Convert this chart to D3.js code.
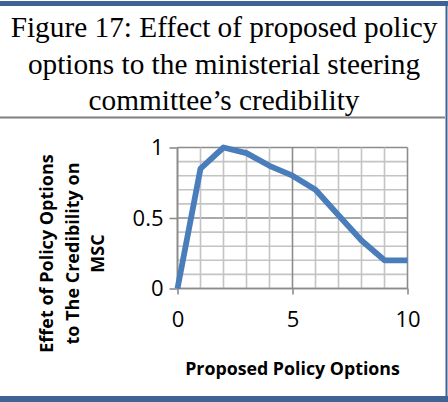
<!DOCTYPE html>
<html>
<head>
<meta charset="utf-8">
<script src="https://cdn.jsdelivr.net/npm/d3@7"></script>
<style>
  html, body { margin: 0; padding: 0; background: #fff; }
  svg { display: block; }
</style>
</head>
<body>
<svg id="chart" width="448" height="402"></svg>
<script>
// Proposed policy options (x) and their effect on the MSC's credibility (y)
const policyOptions = [0, 1, 2, 3, 4, 5, 6, 7, 8, 9, 10];
const credibilityEffect = [0, 0.85, 1.0, 0.96, 0.87, 0.80, 0.70, 0.52, 0.34, 0.20, 0.20];

const xTickValues = [0, 5, 10];
const yTickValues = [0, 0.5, 1];
const xMinorGrid = d3.range(0, 11, 1);
const yMinorGrid = d3.range(0, 11, 1).map(k => k / 10);

const titleLines = [
  "Figure 17: Effect of proposed policy",
  "options to the ministerial steering",
  "committee\u2019s credibility"
];
const yTitleLines = ["Effet of Policy Options", "to The Credibility on", "MSC"];
const xTitle = "Proposed Policy Options";

const svg = d3.select("#chart");
const W = 448, H = 402;
const frameBlue = "#3e6394";

// Frame: blue bars top and bottom, blue right edge, grey divider under the title
svg.append("rect").attr("x", 0).attr("y", 0).attr("width", W).attr("height", H).attr("fill", "#fff");
svg.append("rect").attr("x", 0).attr("y", 1).attr("width", W).attr("height", 5).attr("fill", frameBlue);
svg.append("rect").attr("x", 0).attr("y", 396).attr("width", W).attr("height", 6).attr("fill", frameBlue);
svg.append("rect").attr("x", 445.5).attr("y", 1).attr("width", 2).attr("height", 400).attr("fill", frameBlue);
svg.append("line").attr("x1", 0).attr("x2", 445).attr("y1", 117.5).attr("y2", 117.5)
  .attr("stroke", "#808080").attr("stroke-width", 2);

// Title block
const titleG = svg.append("g");
titleLines.forEach((t, i) => {
  titleG.append("text")
    .attr("x", 224).attr("y", 37 + i * 36.5)
    .attr("text-anchor", "middle")
    .attr("font-family", "'Liberation Serif', 'Times New Roman', serif")
    .attr("font-size", 29.3)
    .attr("fill", "#000")
    .text(t);
});

// Plot area
const pLeft = 177.5, pRight = 407.5, pTop = 147.5, pBottom = 288.5;
const x = d3.scaleLinear().domain([0, 10]).range([pLeft, pRight]);
const y = d3.scaleLinear().domain([0, 1]).range([pBottom, pTop]);

const isMajorY = d => Math.abs(d * 2 - Math.round(d * 2)) < 1e-6;

const grid = svg.append("g");
// horizontal grid every 0.1, darker at 0.5 steps
grid.selectAll("line.h").data(yMinorGrid).join("line")
  .attr("x1", pLeft).attr("x2", pRight)
  .attr("y1", d => y(d)).attr("y2", d => y(d))
  .attr("stroke", d => isMajorY(d) ? "#8c8c8c" : "#c4c4c4")
  .attr("stroke-width", 1.6);
// vertical grid every option, darker at 5 steps
grid.selectAll("line.v").data(xMinorGrid).join("line")
  .attr("x1", d => x(d)).attr("x2", d => x(d))
  .attr("y1", pTop).attr("y2", pBottom)
  .attr("stroke", d => d % 5 === 0 ? "#8c8c8c" : "#c4c4c4")
  .attr("stroke-width", 1.6);

// Axes
const yAxis = d3.axisLeft(y).tickValues(yTickValues).tickSize(8).tickPadding(6)
  .tickFormat(d => d === 0.5 ? "0.5" : String(d));
const xAxis = d3.axisBottom(x).tickValues(xTickValues).tickSize(6).tickPadding(17);

const yG = svg.append("g").attr("transform", `translate(${pLeft},0)`).call(yAxis);
const xG = svg.append("g").attr("transform", `translate(0,${pBottom})`).call(xAxis);
[yG, xG].forEach(g => {
  g.select(".domain").attr("stroke", "#8c8c8c").attr("stroke-width", 1.6);
  g.selectAll(".tick line").attr("stroke", "#8c8c8c").attr("stroke-width", 1.6);
  g.selectAll(".tick text")
    .attr("font-family", "'Open Sans', sans-serif")
    .attr("font-size", 22)
    .attr("fill", "#000");
});
yG.select(".domain").attr("d", `M0,${pBottom}V${pTop}`);
xG.select(".domain").attr("d", `M${pLeft},0H${pRight}`);
yG.selectAll(".tick text").attr("dy", "0.34em");

// Series line
const line = d3.line().x((d, i) => x(policyOptions[i])).y(d => y(d));
svg.append("path")
  .datum(credibilityEffect)
  .attr("d", line)
  .attr("fill", "none")
  .attr("stroke", "#4a7ebb")
  .attr("stroke-width", 5.8)
  .attr("stroke-linejoin", "round")
  .attr("stroke-linecap", "butt");

// Axis titles
svg.append("text")
  .attr("x", (pLeft + pRight) / 2).attr("y", 375)
  .attr("text-anchor", "middle")
  .attr("font-family", "'Open Sans', sans-serif")
  .attr("font-weight", "bold")
  .attr("font-size", 17.8)
  .attr("fill", "#000")
  .text(xTitle);

const yTitleG = svg.append("g").attr("transform", "translate(0,253.5) rotate(-90)");
yTitleLines.forEach((t, i) => {
  yTitleG.append("text")
    .attr("x", 0).attr("y", 53 + i * 25.5)
    .attr("text-anchor", "middle")
    .attr("font-family", "'Open Sans', sans-serif")
    .attr("font-weight", "bold")
    .attr("font-size", 18)
    .attr("fill", "#000")
    .text(t);
});
</script>
</body>
</html>
